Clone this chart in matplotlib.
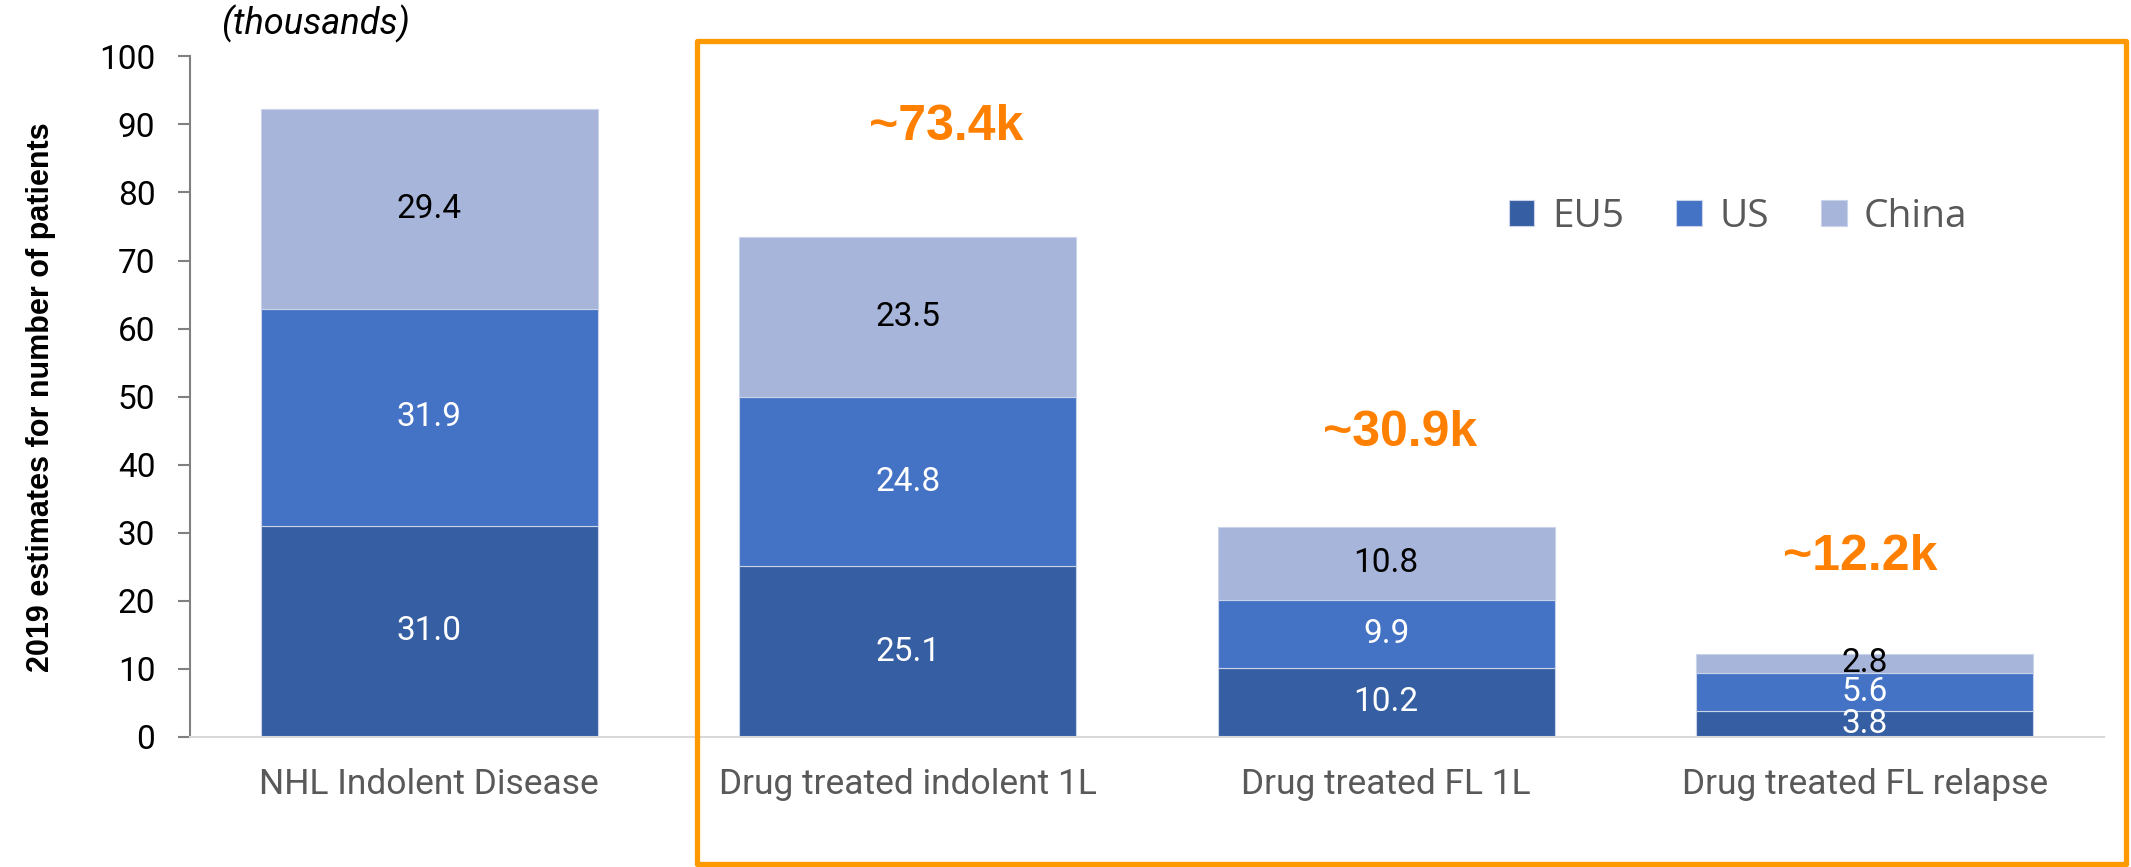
import matplotlib
matplotlib.use("Agg")
import matplotlib.pyplot as plt
from matplotlib.patches import Rectangle
import numpy as np

# data (thousands of patients, 2019 estimates)
categories = ["NHL Indolent Disease", "Drug treated indolent 1L",
              "Drug treated FL 1L", "Drug treated FL relapse"]
series_names = ["EU5", "US", "China"]
eu5 = [31.0, 25.1, 10.2, 3.8]
us = [31.9, 24.8, 9.9, 5.6]
china = [29.4, 23.5, 10.8, 2.8]
callouts = ["~73.4k", "~30.9k", "~12.2k"]
y_ticks = [0, 10, 20, 30, 40, 50, 60, 70, 80, 90, 100]

colors = ["#365EA2", "#4472C4", "#A7B5DA"]
label_colors = ["white", "white", "black"]

fig = plt.figure(figsize=(21.31, 8.67), dpi=100)
ax = fig.add_axes([0.0892, 0.150, 0.8981, 0.785])

x = np.arange(len(categories))
bottom = np.zeros(len(categories))
for vals, name, col, tcol in zip([eu5, us, china], series_names, colors, label_colors):
    vals = np.array(vals)
    ax.bar(x, vals, bottom=bottom, width=0.705, color=col, label=name,
           edgecolor="#c9d3ea", linewidth=0.8)
    for xi, b, v in zip(x, bottom, vals):
        ax.text(xi, b + v / 2, "%.1f" % v, ha="center", va="center",
                fontsize=24, color=tcol, family="Roboto")
    bottom = bottom + vals

# orange totals over the boxed bars
offsets = [0.08, 0.03, -0.01]
heights = [89.6, 44.7, 26.4]
for i, txt in enumerate(callouts):
    ax.text(x[i + 1] + offsets[i], heights[i], txt, ha="center", va="center",
            fontsize=36, fontweight="bold", color="#FF8000",
            family="Liberation Sans")

ax.set_xlim(-0.5, len(categories) - 0.5)
ax.set_ylim(0, 100)
ax.set_yticks(y_ticks)
ax.set_xticks(x)
ax.set_xticklabels(categories, fontsize=25.5, color="#595959", family="Roboto")
for lab in ax.get_yticklabels():
    lab.set_fontsize(24)
    lab.set_family("Roboto")
ax.tick_params(axis="x", length=0, pad=22)
ax.tick_params(axis="y", length=9, width=1.5, color="#808080", pad=16)

for s in ["top", "right"]:
    ax.spines[s].set_visible(False)
ax.spines["left"].set_color("#808080")
ax.spines["left"].set_linewidth(1.5)
ax.spines["bottom"].set_color("#D9D9D9")
ax.spines["bottom"].set_linewidth(1.5)

leg = ax.legend(loc="center", bbox_to_anchor=(0.809, 0.764), ncol=3,
                frameon=False, handlelength=0.65, handleheight=0.65,
                handletextpad=0.45, columnspacing=1.35,
                prop={"family": "Open Sans", "size": 28})
for t in leg.get_texts():
    t.set_color("#595959")

fig.text(0.0192, 0.542, "2019 estimates for number of patients", rotation=90,
         ha="center", va="center", fontsize=22, fontweight="bold",
         family="Liberation Sans")
fig.text(0.148, 0.972, "(thousands)", ha="center", va="center", fontsize=26,
         style="italic", family="Roboto")

# orange frame around the drug-treated groups
fig.patches.append(Rectangle((0.327, 0.004), 0.6705, 0.949, transform=fig.transFigure,
                             fill=False, edgecolor="#FF9900", linewidth=3.8,
                             joinstyle="round"))

fig.savefig("out.png", dpi=100)
